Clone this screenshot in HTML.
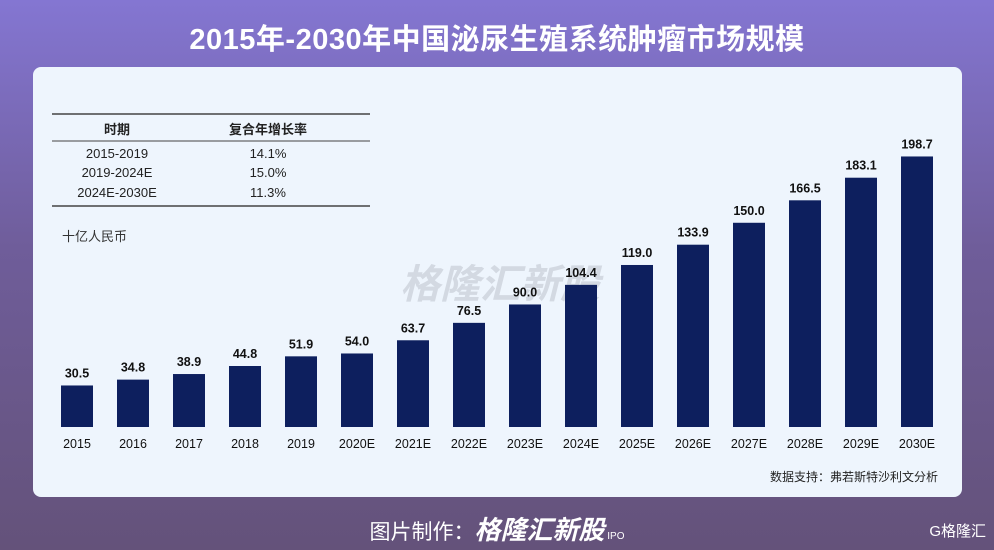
<!DOCTYPE html>
<html><head><meta charset="utf-8">
<style>
body{margin:0;width:994px;height:550px;overflow:hidden;background:linear-gradient(180deg,#8476d2 0%,#6f5d9a 45%,#64527a 100%);font-family:"Liberation Sans","Noto Sans CJK SC",sans-serif;position:relative}
#title{position:absolute;top:16px;left:0;width:994px;text-align:center;color:#fff;font-weight:bold;font-size:29px;letter-spacing:0.5px}
#panel{position:absolute;left:33px;top:67px;width:929px;height:430px;background:#eef5fd;border-radius:8px}
svg{position:absolute;left:0;top:0}
#footer{position:absolute;top:510px;left:0;width:994px;text-align:center;color:#fff;font-size:21px}
</style></head><body>
<div id="title">2015年-2030年中国泌尿生殖系统肿瘤市场规模</div>
<div id="panel"></div>
<svg id="chart" width="994" height="550">
<g font-size="13" fill="#222" text-anchor="middle">
<line x1="52" y1="114" x2="370" y2="114" stroke="#444" stroke-width="1.5"/>
<text x="117" y="134" font-weight="bold">时期</text><text x="268" y="134" font-weight="bold">复合年增长率</text>
<line x1="52" y1="141" x2="370" y2="141" stroke="#444" stroke-width="1"/>
<text x="117" y="158">2015-2019</text><text x="268" y="158">14.1%</text>
<text x="117" y="177">2019-2024E</text><text x="268" y="177">15.0%</text>
<text x="117" y="197">2024E-2030E</text><text x="268" y="197">11.3%</text>
<line x1="52" y1="206" x2="370" y2="206" stroke="#444" stroke-width="1.5"/>
</g>
<text x="62" y="241" font-size="13" fill="#333">十亿人民币</text>
<text x="500" y="298" font-size="40" font-weight="bold" font-style="italic" fill="#d3d9e2" text-anchor="middle">格隆汇新股</text>
<g id="bars"></g>
<text x="938" y="481" font-size="12" fill="#222" text-anchor="end">数据支持：弗若斯特沙利文分析</text>
</svg>
<div id="footer">图片制作：<b><i style="font-size:26px">格隆汇新股</i></b><span style="font-size:10px"> IPO</span></div>
<div style="position:absolute;right:8px;top:520px;color:#fff;font-size:15px">G格隆汇</div>
<script>
const categories=["2015","2016","2017","2018","2019","2020E","2021E","2022E","2023E","2024E","2025E","2026E","2027E","2028E","2029E","2030E"];
const values=[30.5,34.8,38.9,44.8,51.9,54.0,63.7,76.5,90.0,104.4,119.0,133.9,150.0,166.5,183.1,198.7];
const valueLabels=["30.5","34.8","38.9","44.8","51.9","54.0","63.7","76.5","90.0","104.4","119.0","133.9","150.0","166.5","183.1","198.7"];
const NS="http://www.w3.org/2000/svg";
const base=427,scale=1.3615,x0=77,step=56,bw=32;
function xPos(i){return x0+i*step;}
function yPos(v){return base-v*scale;}
const g=document.getElementById('bars');
categories.forEach((c,i)=>{
 const r=document.createElementNS(NS,'rect');
 r.setAttribute('x',xPos(i)-bw/2);r.setAttribute('y',yPos(values[i]));
 r.setAttribute('width',bw);r.setAttribute('height',base-yPos(values[i]));
 r.setAttribute('fill','#0d1f5e');
 
 
 g.appendChild(r);
 const t=document.createElementNS(NS,'text');
 t.setAttribute('x',xPos(i));t.setAttribute('y',yPos(values[i])-8);
 t.setAttribute('text-anchor','middle');t.setAttribute('font-size','12.5');t.setAttribute('font-weight','bold');t.setAttribute('fill','#111');
 t.textContent=valueLabels[i];
 
 
 g.appendChild(t);
 const l=document.createElementNS(NS,'text');
 l.setAttribute('x',xPos(i));l.setAttribute('y',448);
 l.setAttribute('text-anchor','middle');l.setAttribute('font-size','12.5');l.setAttribute('fill','#111');
 l.textContent=c;
 
 
 g.appendChild(l);
});
</script>
</body></html>
